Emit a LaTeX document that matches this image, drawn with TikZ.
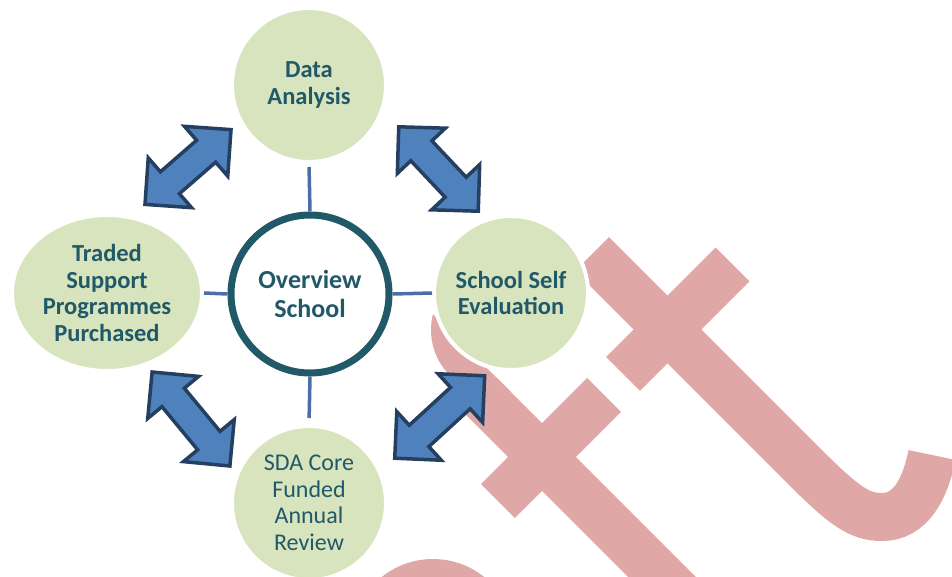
\documentclass[tikz,border=0pt]{standalone}
\usepackage{fontspec}
\setmainfont{Carlito}
\usetikzlibrary{shapes.geometric}
\definecolor{pinkw}{HTML}{E0A7A7}
\definecolor{greenf}{HTML}{D7E4BD}
\definecolor{tealt}{HTML}{215968}
\definecolor{tealr}{HTML}{215968}
\definecolor{connc}{HTML}{4A6FA5}
\definecolor{arrfill}{HTML}{4F81BD}
\definecolor{arrline}{HTML}{243F60}
\newcommand{\blockarrow}[4]{%
  \filldraw[blockarrow,shift={(#1,#2)},rotate=#3]
    (#4,0) -- ({#4-33},33) -- ({#4-33},14.5) -- ({-#4+33},14.5) -- ({-#4+33},33)
    -- (-#4,0) -- ({-#4+33},-33) -- ({-#4+33},-14.5) -- ({#4-33},-14.5) -- ({#4-33},-33) -- cycle;}
\begin{document}
\begin{tikzpicture}[x=1pt,y=-1pt,
  wm/.style={draw=pinkw,line width=48pt,line cap=butt},
  bubble/.style={circle,fill=greenf,draw=white,line width=4pt,inner sep=0pt,
    minimum size=154pt,align=center,text=tealt,
    font=\fontsize{24.5}{26.5}\selectfont\bfseries},
  ring/.style={circle,fill=white,draw=tealr,line width=7pt,inner sep=0pt,
    minimum size=158pt,align=center,text=tealt,
    font=\fontsize{26}{29}\selectfont\bfseries},
  link/.style={draw=connc,line width=3.5pt},
  blockarrow/.style={fill=arrfill,draw=arrline,line width=3.5pt,line join=miter}]
\useasboundingbox (0,0) rectangle (952,576);
\begin{scope}
  \clip (0,0) rectangle (952,576);
  % watermark
  \draw[wm] (592,254) -- (805,467) .. controls (845,507) and (860,517) .. (882,517)
     .. controls (910,517) and (925,490) .. (932,455);
  \draw[wm] (623,374) -- (732.5,264.5);
  \draw[wm] (498,501) -- (604,395);
  \draw[wm] (480,395) -- (720,635);
  \begin{scope}
    \clip (119,0) -- (720,601) -- (0,601) -- (0,0) -- cycle;
    \fill[pinkw] (495,330) circle (64pt);
  \end{scope}
  \fill[pinkw] (433,641) circle (82pt);
\end{scope}
% nodes
\node[ring] (c) at (310,294) {Overview\\School};
\node[bubble] (da) at (309,85) {\raisebox{-2pt}{Data}\\\raisebox{-2pt}{Analysis}};
\node[bubble] (sse) at (511,293) {School Self\\Evaluation};
\node[bubble,font=\fontsize{24}{26.5}\selectfont] (sda) at (309,503) {SDA Core\\Funded\\Annual\\Review};
\node[bubble,ellipse,minimum width=190pt,minimum height=156pt] (tsp) at (107,293)
  {Traded\\Support\\Programmes\\Purchased};
% connectors
\draw[link,shorten >=3pt] (c.north) -- (da.south);
\draw[link,shorten >=6pt] (c.south) -- (sda.north);
\draw[link] (c.west) -- (tsp.east);
\draw[link] (c.east) -- (sse.west);
% block arrows
\blockarrow{188}{167}{41}{57}
\blockarrow{438.5}{169}{-46.7}{58}
\blockarrow{191}{419}{-50.4}{61}
\blockarrow{439.7}{417}{42.5}{61}
\end{tikzpicture}
\end{document}
